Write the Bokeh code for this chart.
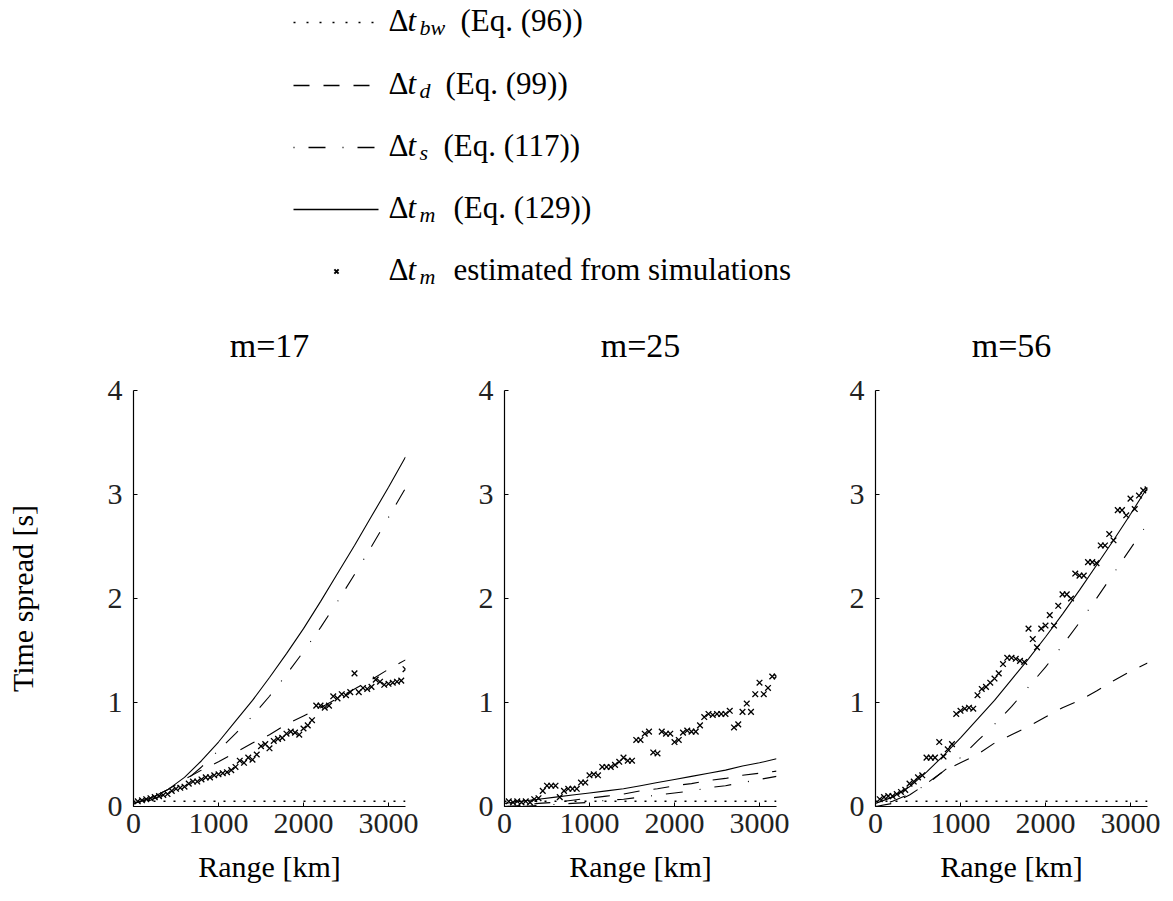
from bokeh.plotting import figure
from bokeh.models import Range1d, FixedTicker
from bokeh.layouts import column, row
from bokeh.core.properties import value
from bokeh.embed import file_html
from bokeh.resources import INLINE

# ---------------- data ----------------
range_km = [0, 200, 400, 600, 800, 1000, 1200, 1400, 1600, 1800, 2000,
            2200, 2400, 2600, 2800, 3000, 3200]

bw_range = [0, 3200]
dt_bw = [0.05, 0.05]

dt_m_17 = [0.03, 0.08, 0.16, 0.28, 0.44, 0.62, 0.82, 1.02, 1.24, 1.47, 1.71,
           1.97, 2.24, 2.51, 2.79, 3.07, 3.36]
dt_s_17 = [0.02, 0.06, 0.13, 0.24, 0.38, 0.54, 0.70, 0.87, 1.06, 1.27, 1.49,
           1.72, 1.97, 2.23, 2.50, 2.78, 3.06]
dt_d_17 = [0.03, 0.08, 0.16, 0.26, 0.35, 0.43, 0.52, 0.61, 0.69, 0.79, 0.87,
           0.95, 1.04, 1.13, 1.22, 1.32, 1.41]

dt_m_25 = [0.03, 0.05, 0.07, 0.09, 0.11, 0.13, 0.15, 0.17, 0.20, 0.23, 0.26,
           0.29, 0.32, 0.35, 0.39, 0.42, 0.46]
dt_s_25 = [0.0, 0.0, 0.01, 0.02, 0.03, 0.04, 0.06, 0.07, 0.09, 0.11, 0.13,
           0.15, 0.18, 0.20, 0.23, 0.26, 0.29]
dt_d_25 = [0.0, 0.01, 0.03, 0.04, 0.06, 0.08, 0.10, 0.12, 0.15, 0.17, 0.20,
           0.22, 0.25, 0.27, 0.30, 0.32, 0.34]

dt_m_56 = [0.03, 0.09, 0.19, 0.33, 0.49, 0.66, 0.84, 1.02, 1.22, 1.42, 1.63,
           1.85, 2.08, 2.32, 2.56, 2.81, 3.07]
dt_s_56 = [0.0, 0.05, 0.12, 0.21, 0.34, 0.47, 0.63, 0.79, 0.96, 1.15, 1.34,
           1.55, 1.77, 2.00, 2.24, 2.48, 2.72]
dt_d_56 = [0.0, 0.03, 0.11, 0.22, 0.34, 0.42, 0.50, 0.61, 0.69, 0.77, 0.86,
           0.95, 1.02, 1.11, 1.21, 1.30, 1.38]

sim_range = [50, 100, 150, 200, 250, 300, 350, 400, 450, 500,
             550, 600, 650, 700, 750, 800, 850, 900, 950, 1000,
             1050, 1100, 1150, 1200, 1250, 1300, 1350, 1400, 1450, 1500,
             1550, 1600, 1650, 1700, 1750, 1800, 1850, 1900, 1950, 2000,
             2050, 2100, 2150, 2200, 2250, 2300, 2350, 2400, 2450, 2500,
             2550, 2600, 2650, 2700, 2750, 2800, 2850, 2900, 2950, 3000,
             3050, 3100, 3150, 3200]

sim_17 = [0.05, 0.06, 0.07, 0.08, 0.09, 0.10, 0.11, 0.12, 0.15, 0.17,
          0.18, 0.19, 0.22, 0.24, 0.24, 0.26, 0.28, 0.28, 0.30, 0.31,
          0.32, 0.33, 0.35, 0.38, 0.44, 0.42, 0.47, 0.45, 0.50, 0.58,
          0.60, 0.56, 0.63, 0.65, 0.66, 0.70, 0.72, 0.71, 0.69, 0.75,
          0.78, 0.83, 0.97, 0.97, 0.95, 0.97, 1.06, 1.04, 1.08, 1.07,
          1.10, 1.28, 1.10, 1.14, 1.13, 1.15, 1.22, 1.20, 1.17, 1.18,
          1.19, 1.20, 1.21, 1.32]
sim_25 = [0.05, 0.04, 0.05, 0.04, 0.05, 0.04, 0.07, 0.08, 0.15, 0.20,
          0.20, 0.20, 0.09, 0.15, 0.17, 0.17, 0.17, 0.23, 0.23, 0.30,
          0.31, 0.30, 0.38, 0.38, 0.38, 0.40, 0.43, 0.47, 0.44, 0.44,
          0.64, 0.64, 0.70, 0.72, 0.52, 0.51, 0.72, 0.70, 0.70, 0.62,
          0.64, 0.71, 0.73, 0.72, 0.72, 0.78, 0.86, 0.89, 0.88, 0.89,
          0.89, 0.89, 0.92, 0.76, 0.79, 0.91, 0.99, 0.91, 1.08, 1.19,
          1.08, 1.14, 1.25, 1.25]
sim_56 = [0.07, 0.09, 0.10, 0.10, 0.12, 0.14, 0.16, 0.22, 0.24, 0.28,
          0.30, 0.47, 0.47, 0.47, 0.62, 0.48, 0.55, 0.60, 0.89, 0.92,
          0.94, 0.95, 0.94, 1.07, 1.13, 1.15, 1.19, 1.23, 1.28, 1.37,
          1.43, 1.43, 1.42, 1.40, 1.39, 1.71, 1.61, 1.53, 1.71, 1.74,
          1.84, 1.74, 1.93, 2.04, 2.04, 2.00, 2.24, 2.22, 2.22, 2.35,
          2.35, 2.34, 2.51, 2.51, 2.62, 2.56, 2.85, 2.85, 2.80, 2.96,
          2.86, 2.99, 3.04, 3.05]

panel_titles = ["m=17", "m=25", "m=56"]
x_ticks = [0, 1000, 2000, 3000]
y_ticks = [0, 1, 2, 3, 4]

legend_sub = ["bw", "d", "s", "m", "m"]
legend_rest = ["(Eq. (96))", "(Eq. (99))", "(Eq. (117))", "(Eq. (129))",
               "estimated from simulations"]

# ---------------- styles ----------------
FONT = "'Liberation Serif', 'DejaVu Serif', serif"
DOT = "2 8"
LDOT = "2 11"
DASH = "16 14"
DASHDOT = "1 14 17 17"
INK = "#000000"

# ---------------- legend block ----------------
LW = 1173
LH = 293
leg = figure(width=LW, height=LH, x_range=Range1d(0, LW), y_range=Range1d(LH, 0),
             output_backend="svg", toolbar_location=None, min_border=0)
leg.axis.visible = False
leg.grid.visible = False
leg.outline_line_color = None

row_y = [22, 85, 147, 209, 271]
sx0, sx1 = 293, 378
leg.line([sx0, sx1], [row_y[0], row_y[0]], line_color=INK, line_width=1.5, line_dash=LDOT)
leg.line([sx0, sx1], [row_y[1], row_y[1]], line_color=INK, line_width=1.3, line_dash=DASH)
leg.line([sx0, sx1], [row_y[2], row_y[2]], line_color=INK, line_width=1.3, line_dash=DASHDOT)
leg.line([sx0, sx1], [row_y[3], row_y[3]], line_color=INK, line_width=1.3)
leg.scatter([336], [row_y[4]], marker="x", size=6, line_color=INK, line_width=2)

mid = [y - 2 for y in row_y]
leg.text(x=[388] * 5, y=mid, text=["Δ"] * 5, text_font=value(FONT),
         text_font_size="31px", text_baseline="middle", text_color=INK)
leg.text(x=[407] * 5, y=mid, text=["t"] * 5, text_font=value(FONT),
         text_font_size="31px", text_font_style="italic",
         text_baseline="middle", text_color=INK)
leg.text(x=[419] * 5, y=[m + 7 for m in mid], text=legend_sub, text_font=value(FONT),
         text_font_size="22px", text_font_style="italic",
         text_baseline="middle", text_color=INK)
rest_x = [460, 445, 443, 453, 453]
leg.text(x=rest_x, y=mid, text=legend_rest, text_font=value(FONT),
         text_font_size="31px", text_baseline="middle", text_color=INK)

# ---------------- panels ----------------
panels = [
    (dt_m_17, dt_s_17, dt_d_17, sim_17),
    (dt_m_25, dt_s_25, dt_d_25, sim_25),
    (dt_m_56, dt_s_56, dt_d_56, sim_56),
]
borders = [(133, 49), (50, 49), (50, 26)]
FW = 272
PH = 901 - LH

figs = []
for i, (dm, ds, dd, sim) in enumerate(panels):
    bl, br = borders[i]
    f = figure(width=bl + FW + br, height=PH,
               x_range=Range1d(0, 3200), y_range=Range1d(0, 4),
               output_backend="svg", toolbar_location=None,
               min_border_left=bl, min_border_right=br,
               min_border_top=97, min_border_bottom=95)
    f.grid.visible = False
    f.outline_line_color = None
    f.title.text = panel_titles[i]
    f.title.align = "center"
    f.title.text_font = FONT
    f.title.text_font_size = "34px"
    f.title.text_font_style = "normal"
    f.title.text_color = INK
    f.title.standoff = 54

    for ax, ticks in ((f.xaxis[0], x_ticks), (f.yaxis[0], y_ticks)):
        ax.ticker = FixedTicker(ticks=ticks)
        ax.major_tick_in = 4
        ax.major_tick_out = 0
        ax.minor_tick_line_color = None
        ax.axis_line_color = INK
        ax.axis_line_width = 1.2
        ax.major_tick_line_color = INK
        ax.major_label_text_font = FONT
        ax.major_label_text_font_size = "30px"
        ax.major_label_text_color = "#222222"
        ax.axis_label_text_font = FONT
        ax.axis_label_text_font_size = "30px"
        ax.axis_label_text_font_style = "normal"
        ax.axis_label_text_color = INK
    f.xaxis[0].major_label_standoff = 7
    f.yaxis[0].major_label_standoff = 11
    f.xaxis[0].axis_label = "Range [km]"
    f.xaxis[0].axis_label_standoff = 14
    if i == 0:
        f.yaxis[0].axis_label = "Time spread [s]"
        f.yaxis[0].axis_label_standoff = 66

    f.line(bw_range, dt_bw, line_color=INK, line_width=1.5, line_dash=DOT)
    f.line(range_km, dd, line_color=INK, line_width=1.1, line_dash=DASH)
    f.line(range_km, ds, line_color=INK, line_width=1.1, line_dash=DASHDOT)
    f.line(range_km, dm, line_color=INK, line_width=1.1)
    f.scatter(sim_range, sim, marker="x", size=8, line_color=INK, line_width=1.3)
    figs.append(f)

layout = column(leg, row(*figs))
open("out.html", "w").write(file_html(layout, INLINE))
